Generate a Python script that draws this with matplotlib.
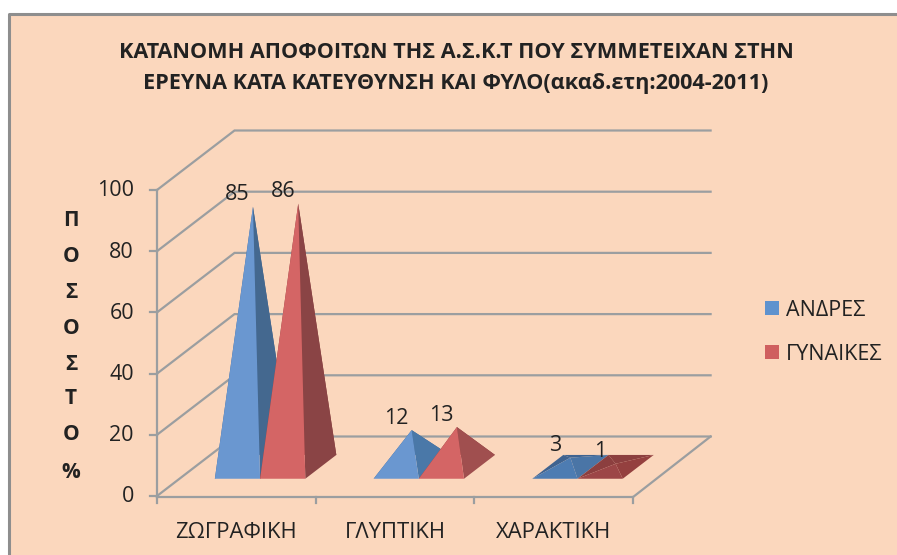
import matplotlib
matplotlib.use('Agg')
import matplotlib.pyplot as plt
from matplotlib.patches import Rectangle

plt.rcParams['font.family'] = ['Open Sans', 'DejaVu Sans']

categories = ['ΖΩΓΡΑΦΙΚΗ', 'ΓΛΥΠΤΙΚΗ', 'ΧΑΡΑΚΤΙΚΗ']
series_names = ['ΑΝΔΡΕΣ', 'ΓΥΝΑΙΚΕΣ']
men = [85, 12, 3]
women = [86, 13, 1]
y_ticks = [0, 20, 40, 60, 80, 100]
title_lines = ['ΚΑΤΑΝΟΜΗ ΑΠΟΦΟΙΤΩΝ ΤΗΣ Α.Σ.Κ.Τ ΠΟΥ ΣΥΜΜΕΤΕΙΧΑΝ ΣΤΗΝ',
               'ΕΡΕΥΝΑ ΚΑΤΑ ΚΑΤΕΥΘΥΝΣΗ ΚΑΙ ΦΥΛΟ(ακαδ.ετη:2004-2011)']
y_label = ['Π', 'Ο', 'Σ', 'Ο', 'Σ', 'Τ', 'Ο', '%']

BG = '#FBD7BD'
GRID = '#9B9EA0'
TEXT = '#222222'
LEGEND = ['#5F92CE', '#CF5F5F']

# face colours per series, the flatter the pyramid the darker excel shades it
TALL = {'front': ['#6A97D0', '#D46565'], 'side': ['#44688F', '#8A4445'], 'back': ['#3F6390', '#8C3F3F']}
MID = {'front': ['#6A97D0', '#D46565'], 'side': ['#4A78A8', '#A04F4F'], 'back': ['#3F6390', '#8C3F3F']}
FLAT = {'front': ['#4D7CB2', '#9C4647'], 'side': ['#4A75A6', '#94403F'], 'back': ['#3F6390', '#8C3F3F']}

# oblique projection of the excel style 3d box, in image pixels
X0, Y0 = 157, 496
CAT_W = 158.7
UNIT = 3.06
DEPTH_X, DEPTH_Y = 77.5, 59.5
BAR_W = 0.285
BAR_SHIFT = 0.008
D_FRONT, D_BACK = 0.29, 0.69
TEXT_DY = 2  # open sans sits higher than the original font


def project(cat, value, depth):
    return (X0 + cat * CAT_W + depth * DEPTH_X,
            Y0 - value * UNIT - depth * DEPTH_Y)


def pyramid(ax, cat, serie, value):
    left = cat + 0.5 + BAR_SHIFT + (serie - 1) * BAR_W
    right = left + BAR_W
    mid = (left + right) / 2
    fl = project(left, 0, D_FRONT)
    fr = project(right, 0, D_FRONT)
    bl = project(left, 0, D_BACK)
    br = project(right, 0, D_BACK)
    apex = project(mid, value, (D_FRONT + D_BACK) / 2)
    style = FLAT if value < 5 else MID if value < 40 else TALL
    for pts, col in [((bl, br, apex), style['back'][serie]),
                     ((fl, bl, apex), style['back'][serie]),
                     ((fr, br, apex), style['side'][serie]),
                     ((fl, fr, apex), style['front'][serie])]:
        ax.fill(*zip(*pts), color=col, lw=0, zorder=3)
    label_x = project(mid, 0, D_FRONT)[0]
    ax.text(label_x, apex[1] - 14 + TEXT_DY, str(value), ha='center', va='center',
            fontsize=15.5, color=TEXT, zorder=5)


fig = plt.figure(figsize=(8.97, 5.55), dpi=100, facecolor='white')
ax = fig.add_axes([0, 0, 1, 1])
ax.set_xlim(0, 897)
ax.set_ylim(555, 0)
ax.axis('off')

# chart area with the grey border on top and left only
ax.add_patch(Rectangle((8, 14), 889, 541, fc=BG, ec='none', zorder=0))
ax.plot([8.5, 8.5, 897], [555, 14, 14], color='#8E8E8E', lw=2.2, zorder=1)

n = len(categories)
for v in y_ticks:
    p0 = project(0, v, 0)
    p1 = project(0, v, 1)
    p2 = project(n, v, 1)
    ax.plot([p0[0], p1[0], p2[0]], [p0[1], p1[1], p2[1]], color=GRID, lw=1.6, zorder=1,
            solid_joinstyle='miter')
    ax.plot([p0[0] - 7, p0[0]], [p0[1], p0[1]], color=GRID, lw=1.6, zorder=1)
    ax.text(134, p0[1] + 1, str(v), ha='right', va='center', fontsize=15.5, color=TEXT)

# axis lines and the floor edge
a = project(0, 100, 0)
b = project(0, 0, 0)
c = project(n, 0, 0)
d = project(n, 0, 1)
ax.plot([a[0], b[0]], [a[1], b[1] + 1], color=GRID, lw=1.6, zorder=2)
ax.plot([b[0], c[0], d[0]], [b[1] + 1, c[1] + 1, d[1]], color=GRID, lw=1.6, zorder=2)
for i in range(n + 1):
    t = project(i, 0, 0)
    ax.plot([t[0], t[0]], [t[1] + 1, t[1] + 7], color=GRID, lw=1.6, zorder=2)

for i, name in enumerate(categories):
    ax.text(project(i + 0.5, 0, 0)[0], 530 + TEXT_DY, name, ha='center', va='center',
            fontsize=15.8, color=TEXT)

for i in range(n):
    pyramid(ax, i, 0, men[i])
    pyramid(ax, i, 1, women[i])

for line, y in zip(title_lines, [50, 82]):
    ax.text(456, y + TEXT_DY, line, ha='center', va='center', fontsize=15.6,
            fontweight='bold', color=TEXT)

for ch, y in zip(y_label, [218, 255, 290, 327, 362, 397, 433, 471]):
    ax.text(71, y + TEXT_DY, ch, ha='center', va='center', fontsize=15,
            fontweight='bold', color=TEXT)

# legend
for name, col, y in zip(series_names, LEGEND, [308, 352]):
    ax.add_patch(Rectangle((765, y - 7), 14, 14, fc=col, ec='none', zorder=3))
    ax.text(786, y + TEXT_DY, name, ha='left', va='center', fontsize=15.5, color=TEXT)

fig.savefig('out.png', dpi=100)
